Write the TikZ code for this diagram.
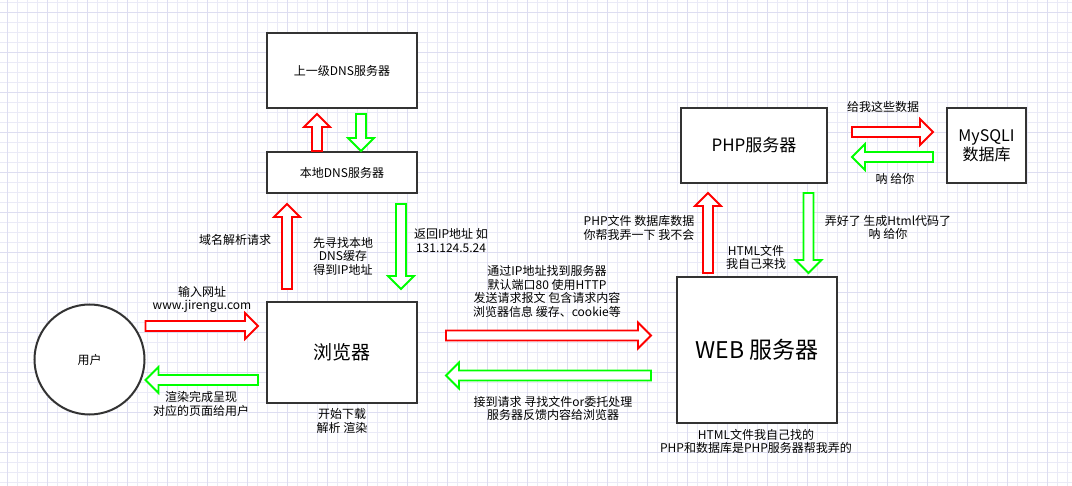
\documentclass[tikz,border=0pt]{standalone}
\usepackage{fontspec}
\setmainfont{Noto Sans CJK SC}
\usetikzlibrary{calc}
\definecolor{boxline}{HTML}{333333}
\definecolor{reqred}{HTML}{FF0000}
\definecolor{respgreen}{HTML}{00FF00}
\definecolor{gridfine}{HTML}{EAEAF7}
\definecolor{gridbold}{HTML}{DDDDF1}

\begin{document}
\begin{tikzpicture}[x=1pt, y=-1pt,
    box/.style={draw=boxline, line width=2pt, fill=white, inner sep=0pt, outer sep=0pt,
      align=center, font=\fontsize{12}{14}\selectfont},
    lbl/.style={align=center, inner sep=0pt, font=\fontsize{12}{13.5}\selectfont},
    block/.style={draw=#1, line width=1.8pt, fill=white,
      to path={let \p1=(\tikztostart), \p2=(\tikztotarget), \p3=($(\p2)!13pt!(\p1)$) in
        ($(\p1)!5pt!90:(\p2)$) -- ($(\p3)!5pt!90:(\p2)$) -- ($(\p3)!13pt!90:(\p2)$) -- (\p2)
        -- ($(\p3)!13pt!-90:(\p2)$) -- ($(\p3)!5pt!-90:(\p2)$) -- ($(\p1)!5pt!-90:(\p2)$) -- cycle}}]

  % paper grid
  \useasboundingbox (0,0) rectangle (1072,486);
  \fill[white] (0,0) rectangle (1072,486);
  \begin{scope}[shift={(7,3)}]
    \draw[gridfine, line width=1pt, step=10pt] (-7,-3) grid (1065,483);
  \end{scope}
  \begin{scope}[shift={(7,13)}]
    \draw[gridbold, line width=1pt, step=40pt] (-7,-13) grid (1065,473);
  \end{scope}

  % boxes
  \node[box, minimum width=150pt, minimum height=75pt] (updns) at (342,70.5) {上一级DNS服务器};
  \node[box, minimum width=150pt, minimum height=41pt] (localdns) at (342,172.5) {本地DNS服务器};
  \node[box, minimum width=150pt, minimum height=101pt, font=\fontsize{19}{22}\selectfont] (browser) at (342,352.5) {浏览器};
  \node[box, circle, minimum size=110pt] (user) at (89.5,359.5) {用户};
  \node[box, minimum width=160pt, minimum height=146pt, font=\fontsize{23}{26}\selectfont] (web) at (757,350) {WEB 服务器};
  \node[box, minimum width=146pt, minimum height=75pt, font=\fontsize{17}{20}\selectfont] (php) at (754,145.5) {PHP服务器};
  \node[box, minimum width=79pt, minimum height=75pt, font=\fontsize{16}{18.5}\selectfont] (mysql) at (986.5,145.5) {MySQLI\\数据库};

  % arrow ends
  \coordinate (a1) at ($(localdns.north)+(-25,-1)$);
  \coordinate (a2) at ($(updns.south)+(-25,6)$);
  \coordinate (b1) at ($(updns.south)+(19,6)$);
  \coordinate (b2) at ($(localdns.north)+(19,-1)$);
  \coordinate (c1) at ($(browser.north)+(-55,-13)$);
  \coordinate (c2) at ($(localdns.south)+(-55,11)$);
  \coordinate (d1) at ($(localdns.south)+(59,11)$);
  \coordinate (d2) at ($(browser.north)+(59,-13)$);
  \coordinate (e1) at ($(user.east)+(1,-33.5)$);
  \coordinate (e2) at ($(browser.west)+(-9,-26.5)$);
  \coordinate (f1) at ($(browser.west)+(-9,27.5)$);
  \coordinate (f2) at ($(user.east)+(1,20.5)$);
  \coordinate (g1) at ($(browser.east)+(29,-17)$);
  \coordinate (g2) at ($(web.west)+(-26,-14.5)$);
  \coordinate (h1) at ($(web.west)+(-26,25.5)$);
  \coordinate (h2) at ($(browser.east)+(29,23)$);
  \coordinate (i1) at ($(web.north)+(-49,-4)$);
  \coordinate (i2) at ($(php.south)+(-46,10)$);
  \coordinate (j1) at ($(php.south)+(54.5,10)$);
  \coordinate (j2) at ($(web.north)+(51.5,-4)$);
  \coordinate (k1) at ($(php.east)+(25,-13.5)$);
  \coordinate (k2) at ($(mysql.west)+(-14,-13.5)$);
  \coordinate (l1) at ($(mysql.west)+(-14,11.5)$);
  \coordinate (l2) at ($(php.east)+(25,11.5)$);

  % requests red, answers green
  \draw[block=reqred] (a1) to (a2);
  \draw[block=respgreen] (b1) to (b2);
  \draw[block=reqred] (c1) to (c2);
  \draw[block=respgreen] (d1) to (d2);
  \draw[block=reqred] (e1) to (e2);
  \draw[block=respgreen] (f1) to (f2);
  \draw[block=reqred] (g1) to (g2);
  \draw[block=respgreen] (h1) to (h2);
  \draw[block=reqred] (i1) to (i2);
  \draw[block=respgreen] (j1) to (j2);
  \draw[block=reqred] (k1) to (k2);
  \draw[block=respgreen] (l1) to (l2);

  % labels
  \node[lbl] (lresolve) at (235,240) {域名解析请求};
  \node[lbl] (lcache) at (343,256) {先寻找本地\\DNS缓存\\得到IP地址};
  \node[lbl] (lreturn) at (451,240.5) {返回IP地址 如\\131.124.5.24};
  \node[lbl] (linput) at (202,299.5) {输入网址\\www.jirengu.com};
  \node[lbl] (lrender) at (201,404) {渲染完成呈现\\对应的页面给用户};
  \node[lbl] (lparse) at (342,421) {开始下载\\解析 渲染};
  \node[lbl] (lrequest) at (547,291.5) {通过IP地址找到服务器\\默认端口80 使用HTTP\\发送请求报文 包含请求内容\\浏览器信息 缓存、cookie等};
  \node[lbl] (lreply) at (553,408.5) {接到请求 寻找文件or委托处理\\服务器反馈内容给浏览器};
  \node[lbl] (lnote) at (756,441.5) {HTML文件我自己找的\\PHP和数据库是PHP服务器帮我弄的};
  \node[lbl] (lask) at (639,228) {PHP文件 数据库数据\\你帮我弄一下 我不会};
  \node[lbl] (lhtml) at (756,257.5) {HTML文件\\我自己来找};
  \node[lbl] (ldone) at (888,227.5) {弄好了 生成Html代码了\\呐 给你};
  \node[lbl] (lquery) at (883,107) {给我这些数据};
  \node[lbl] (lgive) at (895,179) {呐 给你};
\end{tikzpicture}
\end{document}
